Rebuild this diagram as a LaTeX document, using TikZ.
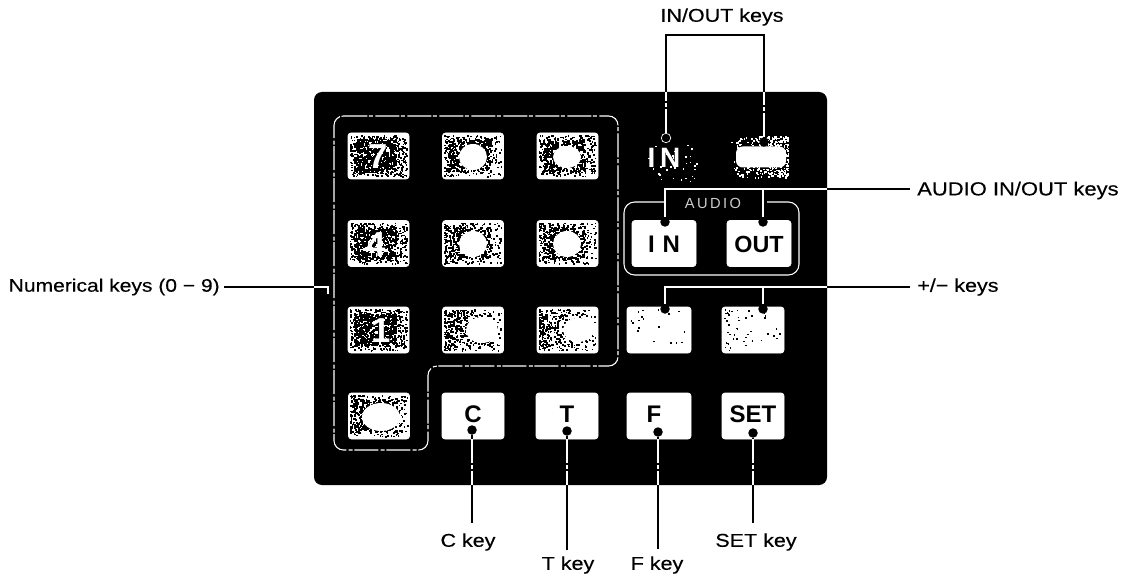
\documentclass[tikz,border=0pt]{standalone}
\usepackage{fontspec}
\setmainfont{Liberation Sans}
\newfontfamily\lblfont[FakeStretch=1.16,FakeBold=0.35]{Liberation Sans}
\newcommand\grain[5]{%
  \foreach \i in {1,...,#3}{%
    \pgfmathsetmacro\gx{#1-29+57*rnd^#4}%
    \pgfmathsetmacro\gy{#2-21+41*rnd^1.1}%
    \fill[#5] (\gx,\gy) rectangle ++(1.6,1.6);
  }%
}
\newcommand\graincore[3]{%
  \foreach \i in {1,...,#3}{%
    \pgfmathsetmacro\gx{#1-25+42*rnd}%
    \pgfmathsetmacro\gy{#2-17+32*rnd}%
    \fill (\gx,\gy) rectangle ++(2,2);
  }%
}
\tikzset{
  keybox/.style={draw=white,line width=.5pt,fill=white,rounded corners=2.2pt,minimum width=61*.75pt,minimum height=46*.75pt,inner sep=0pt},
  darkkey/.style={keybox,draw=none,fill=black},
  blob/.style={ellipse,fill=white,inner sep=0pt},
  lbl/.style={font=\lblfont\fontsize{13.9pt}{15pt}\selectfont,text=black,inner sep=0pt},
  keytext/.style={font=\bfseries\fontsize{18pt}{18pt}\selectfont,text=black,inner sep=0pt},
  digit/.style={font=\bfseries\fontsize{26pt}{26pt}\selectfont,text=white,inner sep=0pt},
  bline/.style={draw=black,line width=1.3pt},
  wline/.style={draw=white,line width=.8pt},
  wdash/.style={draw=white,line width=.8pt,dash pattern=on 18pt off 1.2pt on 3pt off 1.8pt},
  dotmark/.style={circle,fill=black,minimum size=9.5*.75pt,inner sep=0pt},
}
\usetikzlibrary{shapes.geometric}
\begin{document}
\begin{tikzpicture}[x=.75pt,y=-.75pt]
\useasboundingbox (0,0) rectangle (1126,577);
\pgfmathsetseed{4217}
% panel
\node (panel) [fill=black,rounded corners=6pt,minimum width=513*.75pt,minimum height=393*.75pt,inner sep=0pt] at (570.5,288.5) {};
% outline of the numerical group
\draw[wdash,rounded corners=7pt] (334,116) -- (618,116) -- (618,366) -- (428,366) -- (428,450) -- (334,450) -- cycle;
% audio group
\draw[wline,rounded corners=8pt] (664,202) -- (624,202) -- (624,275) -- (799,275) -- (799,202) -- (767,202);
\node (audio) [font=\fontsize{11pt}{12pt}\selectfont,text=white!80!black,inner sep=0pt] at (713,203) {A\,U\,D\,I\,O};
% grainy numerical keys
\foreach \nm/\cx/\cy/\cnt/\bs/\core in {k7/378.5/156/520/1.0/420,k8/473/156/300/1.4/300,k9/567.5/156/360/1.1/320,
  k4/378.5/243.5/400/1.1/340,k5/473/243.5/300/1.5/240,k6/567.5/243.5/340/1.3/260,
  k1/378.5/330/500/1.1/420,k2/473/330/300/1.8/130,k3/567.5/330/280/2.0/110,k0/379/416/380/1.5/240}{
  \node (\nm) [keybox] at (\cx,\cy) {};
  \grain{\cx}{\cy}{\cnt}{\bs}{black}
  \graincore{\cx}{\cy}{\core}
}
% white centres
\node (d7) [digit] at (378,157) {7};
\node (d4) [digit] at (376,245) {4};
\node (d1) [digit] at (381,331) {1};
\node (b8) [blob,minimum width=28*.75pt,minimum height=26*.75pt] at (473,157) {};
\node (b9) [blob,minimum width=28*.75pt,minimum height=22*.75pt] at (567,157) {};
\node (b5) [blob,minimum width=28*.75pt,minimum height=26*.75pt] at (473,244) {};
\node (b6) [blob,minimum width=28*.75pt,minimum height=26*.75pt] at (567,244) {};
\node (b2) [blob,minimum width=32*.75pt,minimum height=26*.75pt] at (482,330) {};
\node (b3) [blob,minimum width=30*.75pt,minimum height=24*.75pt] at (578,330) {};
\node (b0) [blob,minimum width=38*.75pt,minimum height=28*.75pt] at (381,417) {};
% dark top keys
\node (kin) [darkkey] at (663,157) {};
\grain{670}{165}{35}{.5}{white}
\node (kout) [darkkey] at (760,157) {};
\grain{760}{157}{420}{.55}{white}
\node (tin) [digit,font=\bfseries\fontsize{21pt}{21pt}\selectfont] at (664,158) {I\,N};
\node (bout) [fill=white,rounded corners=5pt,minimum width=50*.75pt,minimum height=21*.75pt,inner sep=0pt] at (761,157) {};
% audio keys
\node (ain) [keybox,minimum width=64*.75pt] at (664,243.5) {};
\node (aint) [keytext,font=\bfseries\fontsize{18pt}{18pt}\selectfont] at (664,244) {I\,\,N};
\node (aout) [keybox,minimum width=64*.75pt] at (759,243.5) {};
\node (aoutt) [keytext,font=\bfseries\fontsize{17.5pt}{18pt}\selectfont] at (759,244) {OUT};
% +/- keys
\node (kp) [keybox,minimum width=64*.75pt] at (659,330) {};
\grain{659}{330}{18}{1}{black}
\node (km) [keybox,minimum width=62*.75pt] at (753,330) {};
\grain{753}{330}{45}{1.8}{black}
% bottom keys
\node (kc) [keybox,minimum width=62*.75pt] at (473,416) {};
\node (tc) [keytext] at (473,414) {C};
\node (kt) [keybox,minimum width=62*.75pt] at (567,416) {};
\node (tt) [keytext] at (567,414) {T};
\node (kf) [keybox,minimum width=64*.75pt] at (659,416) {};
\node (tf) [keytext] at (654,414) {F};
\node (kset) [keybox,minimum width=62*.75pt] at (753,416) {};
\node (tset) [keytext] at (753,414) {SET};
% labels
\node (lio) [lbl] at (722,17) {IN/OUT keys};
\node (laud) [lbl,anchor=west,font=\lblfont\fontsize{14.2pt}{15pt}\selectfont] at (917,190.5) {AUDIO IN/OUT keys};
\node (lpm) [lbl,anchor=west] at (917,287) {+/− keys};
\node (lnum) [lbl,anchor=east,font=\lblfont\fontsize{13.6pt}{15pt}\selectfont] at (220,287) {Numerical keys (0 − 9)};
\node (lc) [lbl] at (468,542) {C key};
\node (lt) [lbl] at (568,565) {T key};
\node (lf) [lbl] at (657,565) {F key};
\node (lset) [lbl] at (756,542) {SET key};
% dots
\node (dtin) [dotmark,draw=white,line width=.5pt] at (666,138) {};
\node (dtout) [dotmark] at (764,142) {};
\node (dain) [dotmark] at (665,222) {};
\node (daout) [dotmark] at (763,222) {};
\node (dp) [dotmark] at (665,309) {};
\node (dm) [dotmark] at (763,309) {};
\node (dc) [dotmark] at (472,430) {};
\node (dt) [dotmark] at (567,431) {};
\node (df) [dotmark] at (658,432) {};
\node (ds) [dotmark] at (753,433) {};
% free ends of connectors
\coordinate (ctop) at (666,35);
\coordinate (endc) at (472,523);
\coordinate (endt) at (567,550);
\coordinate (endf) at (658,549);
\coordinate (ends) at (753,523);
\coordinate (endaud) at (910,189);
\coordinate (endpm) at (910,287);
\coordinate (numin) at (328,287);
\coordinate (numtip) at (328,294);
% connectors: black part
\draw[bline] (dtin) -- (dtin |- ctop) -- (dtout |- ctop) -- (dtout);
\draw[bline] (panel.east |- endaud) -- (endaud);
\draw[bline] (panel.east |- endpm) -- (endpm);
\draw[bline] (lnum.east) ++(4,0) coordinate (numst) -- (panel.west |- numst);
\draw[bline] (dc) -- (endc);
\draw[bline] (dt) -- (endt);
\draw[bline] (df) -- (endf);
\draw[bline] (ds) -- (ends);
% connectors: white part, over the panel
\draw[wdash] (dtin) -- (dtin |- panel.north);
\draw[wdash] (dtout) -- (dtout |- panel.north);
\draw[wline] (dain) |- (panel.east |- endaud);
\draw[wline] (daout) |- (panel.east |- endaud);
\draw[wline] (dp) |- (panel.east |- endpm);
\draw[wline] (dm) |- (panel.east |- endpm);
\draw[wline] (panel.west |- numin) -- (numin) -- (numtip);
\draw[wdash] (dc |- kc.south) -- (dc |- panel.south);
\draw[wdash] (dt |- kt.south) -- (dt |- panel.south);
\draw[wdash] (df |- kf.south) -- (df |- panel.south);
\draw[wdash] (ds |- kset.south) -- (ds |- panel.south);
\end{tikzpicture}
\end{document}
